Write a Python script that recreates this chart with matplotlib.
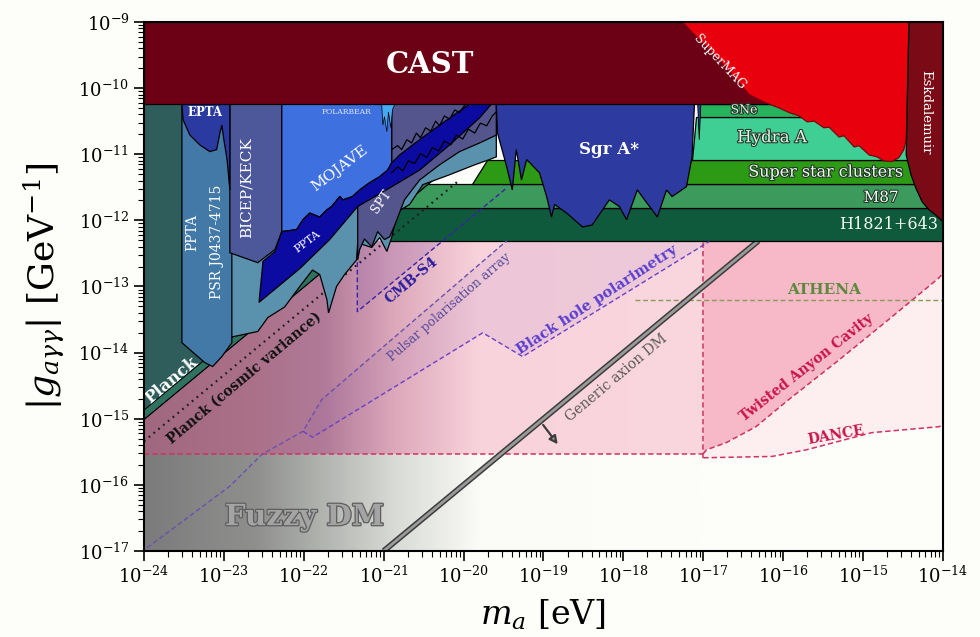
import matplotlib.pyplot as plt
import matplotlib.patheffects as pe
import numpy as np
from matplotlib.patches import Polygon
from matplotlib.ticker import LogLocator, NullFormatter, FixedLocator
from matplotlib.colors import LinearSegmentedColormap

plt.rcParams["font.family"] = "DejaVu Serif"
plt.rcParams["mathtext.fontset"] = "dejavuserif"

# everything below is log10(m_a / eV) and log10(|g| / GeV^-1)
XLIM = (-24, -14)
YLIM = (-17, -9)
mass_ticks = list(range(-24, -13))
coupling_ticks = list(range(-17, -8))

# ---- existing bounds ----
cast_logm = [-24, -14, -14, -24]
cast_logg = [-10.24, -10.24, -9.0, -9.0]

supermag_logm = [-17.26, -17.05, -16.80, -16.425, -16.24, -16.05, -15.925, -15.80, -15.70, -15.61,
                 -15.49, -15.425, -15.30, -15.24, -15.11, -15.05, -14.925, -14.825, -14.74, -14.64,
                 -14.55, -14.49, -14.46, -14.425]
supermag_logg = [-9.0, -9.27, -9.57, -10.10, -10.21, -10.30, -10.37, -10.42, -10.51, -10.50,
                 -10.60, -10.59, -10.74, -10.72, -10.89, -10.87, -11.01, -11.04, -11.10, -11.11,
                 -11.05, -10.93, -10.78, -9.0]

eskd_logm = [-14.425, -14.46, -14.40, -14.34, -14.26, -14.175, -14.09, -14.0, -14.0]
eskd_logg = [-9.0, -11.01, -11.31, -11.51, -11.72, -11.84, -11.92, -12.02, -9.0]

# astrophysical bands
sne_logm = [-17.05, -14.0, -14.0, -17.05]
sne_logg = [-10.43, -10.43, -10.24, -10.24]
hydra_logm = [-17.14, -14.0, -14.0, -17.09]
hydra_logg = [-11.08, -11.08, -10.43, -10.43]
ssc_logm = [-19.89, -14.0, -14.0, -19.71]
ssc_logg = [-11.45, -11.45, -11.08, -11.08]
m87_logm = [-20.74, -14.0, -14.0, -20.60]
m87_logg = [-11.81, -11.81, -11.45, -11.45]
h1821_logm = [-20.93, -14.0, -14.0, -20.93]
h1821_logg = [-12.31, -12.31, -11.81, -11.81]

sgra_logm = [-19.59, -19.59, -19.575, -19.46, -19.39, -19.34, -19.275, -19.21, -19.05, -18.96,
             -18.90, -18.86, -18.71, -18.51, -18.39, -18.175, -18.05, -17.96, -17.825, -17.71,
             -17.64, -17.575, -17.46, -17.39, -17.21, -17.14, -17.11]
sgra_logg = [-10.24, -10.28, -10.68, -11.19, -11.54, -10.93, -11.39, -11.08, -11.28, -11.64,
             -11.95, -11.76, -11.89, -12.10, -12.07, -11.69, -11.79, -11.99, -11.54, -11.73,
             -11.84, -11.95, -11.54, -11.64, -11.49, -11.04, -10.24]
sgra_spike_logm = [-17.07, -17.05, -17.03]
sgra_spike_logg = [-10.24, -10.78, -10.24]

planck_logm = [-24, -24, -19.23]
planck_logg = [-10.24, -15.01, -10.24]
planck_strip_logm = [-24, -19.23, -19.37, -24]
planck_strip_logg = [-15.01, -10.24, -10.24, -14.87]

pta_logm = [-23.525, -23.525, -23.24, -23.14, -23.025, -22.90, -22.90]
pta_logg = [-10.24, -13.85, -14.15, -14.21, -14.06, -13.85, -10.24]

psr_logm = [-23.275, -23.275, -22.925, -22.575, -22.45, -22.24, -22.05, -21.89, -21.80, -21.71,
            -21.69, -21.59, -21.49, -21.34, -21.325, -21.15, -21.05, -20.96, -20.90, -20.825,
            -20.675, -20.51, -20.175, -19.86, -19.675, -19.59, -19.59]
psr_logg = [-10.24, -13.80, -13.77, -13.68, -13.47, -13.31, -13.00, -12.75, -12.82, -13.20,
            -13.40, -13.00, -12.82, -12.60, -12.34, -12.41, -12.26, -12.47, -12.26, -11.87,
            -11.76, -11.46, -11.31, -11.16, -11.08, -11.04, -10.24]

epta_logm = [-23.525, -23.51, -23.425, -23.30, -23.175, -23.09, -23.05, -23.025, -23.0, -22.96,
             -22.925, -22.925]
epta_logg = [-10.24, -10.48, -10.71, -10.86, -10.96, -10.93, -10.68, -10.56, -10.78, -11.08,
             -11.54, -10.24]

bicep_logm = [-22.925, -22.925, -22.575, -22.36, -22.275, -22.275]
bicep_logg = [-10.24, -12.49, -12.64, -12.44, -12.17, -10.24]

spt_logm = [-21.325, -21.325, -20.90, -20.90, -19.59, -19.59, -19.80, -20.05, -20.30, -20.55,
            -20.74, -20.86, -20.925, -20.99, -21.075, -21.15, -21.24, -21.30]
spt_logg = [-12.60, -11.72, -11.13, -10.24, -10.24, -10.71, -10.83, -10.96, -11.16, -11.39,
            -11.69, -12.07, -12.25, -12.29, -12.17, -12.40, -12.28, -12.44]

mojave_logm = [-22.275, -22.275, -22.09, -22.01, -21.925, -21.80, -21.71, -21.65, -21.55, -21.51,
               -21.39, -21.30, -21.175, -21.05, -20.95, -20.90, -20.90]
mojave_logg = [-10.24, -12.17, -12.14, -11.99, -11.89, -11.95, -11.84, -11.79, -11.64, -11.69,
               -11.64, -11.54, -11.43, -11.34, -11.24, -11.13, -10.24]

ppta_band_logm = [-22.56, -22.05, -21.675, -21.325, -20.925, -20.55, -20.175, -19.80, -19.65,
                  -19.925, -20.30, -20.55, -20.80, -20.90, -20.95, -21.05, -21.175, -21.30,
                  -21.39, -21.51, -21.55, -21.65, -21.71, -21.80, -21.925, -22.01, -22.09,
                  -22.275, -22.36, -22.51]
ppta_band_logg = [-13.24, -12.73, -12.29, -11.79, -11.51, -11.24, -10.86, -10.45, -10.24,
                  -10.24, -10.56, -10.78, -11.01, -11.13, -11.24, -11.34, -11.43, -11.54,
                  -11.64, -11.69, -11.64, -11.79, -11.84, -11.95, -11.89, -11.99, -12.14,
                  -12.17, -12.47, -12.62]

polarbear_logm = [-21.025, -21.01, -20.99, -20.96, -20.94, -20.91, -20.89, -20.86]
polarbear_logg = [-10.24, -10.56, -10.43, -10.66, -10.36, -10.60, -10.33, -10.24]

# noisy CMB birefringence limits running under CAST
noise1_logm = [-20.90, -20.825, -20.775, -20.71, -20.65, -20.59, -20.54, -20.475, -20.41, -20.35,
               -20.30, -20.24, -20.175, -20.11, -20.05, -19.975]
noise1_logg = [-10.93, -10.87, -10.93, -10.78, -10.83, -10.68, -10.75, -10.60, -10.65, -10.50,
               -10.57, -10.42, -10.47, -10.33, -10.37, -10.24]
noise2_logm = [-20.90, -20.825, -20.76, -20.69, -20.61, -20.54, -20.46, -20.39, -20.31, -20.24,
               -20.16, -20.09, -20.01, -19.94, -19.86, -19.79, -19.71, -19.64, -19.59]
noise2_logg = [-11.28, -11.19, -11.25, -11.10, -11.14, -10.99, -11.05, -10.90, -10.95, -10.80,
               -10.86, -10.71, -10.77, -10.62, -10.68, -10.53, -10.57, -10.42, -10.36]

# ---- projections ----
pink_logm = [-24, -17, -17, -24]
pink_logg = [-15.53, -15.53, -12.31, -12.31]
fuzzy_logm = [-24, -17, -17, -24]
fuzzy_logg = [-17, -17, -15.53, -15.53]

anyon_logm = [-17.0, -16.96, -16.71, -16.34, -15.93, -15.30, -14.68, -14.05, -14.0]
anyon_logg = [-15.53, -15.47, -15.36, -15.12, -14.71, -14.11, -13.50, -12.87, -12.80]
dance_logm = [-17.0, -16.14, -15.71, -14.89, -14.05, -14.0]
dance_logg = [-15.59, -15.57, -15.47, -15.21, -15.12, -15.10]

athena_logm = [-17.86, -14.0]
athena_logg = [-13.20, -13.20]

planck_cv_logm = [-24.0, -20.05]
planck_cv_logg = [-15.34, -11.39]

cmbs4_logm = [-21.33, -21.33, -19.45]
cmbs4_logg = [-12.40, -13.38, -11.50]

pulsar_logm = [-23.96, -22.925, -22.525, -22.01, -21.775, -19.46]
pulsar_logg = [-16.95, -16.02, -15.54, -15.19, -14.71, -12.31]
bhp_logm = [-22.01, -21.89, -19.76, -19.26, -16.925]
bhp_logg = [-15.19, -15.28, -13.70, -14.06, -12.32]

axion_logm = [-21.0, -16.31]
axion_logg = [-17.0, -12.31]
axion_arrow_logm = [-19.025, -18.80]
axion_arrow_logg = [-15.06, -15.42]


def P(v):
    return 10.0 ** np.asarray(v, dtype=float)


def region(ax, logm, logg, fc, z, ec="k", lw=0.9, alpha=1.0, ls="-"):
    patch = Polygon(np.column_stack([P(logm), P(logg)]), closed=True, fc=fc, ec=ec,
                    lw=lw, alpha=alpha, zorder=z, ls=ls)
    ax.add_patch(patch)
    return patch


def label(ax, lm, lg, s, size, color="white", rot=0, weight="normal", stroke=None, z=30):
    t = ax.text(P(lm), P(lg), s, fontsize=size, color=color, rotation=rot,
                ha="center", va="center", fontweight=weight, zorder=z,
                rotation_mode="anchor")
    if stroke:
        t.set_path_effects([pe.withStroke(linewidth=stroke[0], foreground=stroke[1])])
    return t


fig = plt.figure(figsize=(9.8, 6.37), dpi=100, facecolor="#fdfdf9")
ax = fig.add_axes([0.1469, 0.1350, 0.8153, 0.8305])
ax.set_xscale("log")
ax.set_yscale("log")
ax.set_xlim(P(XLIM[0]), P(XLIM[1]))
ax.set_ylim(P(YLIM[0]), P(YLIM[1]))
ax.set_facecolor("#fdfdf9")

# gradient backgrounds (fuzzy DM fades out towards heavier masses)
grad_x = np.linspace(0, 1, 512)
gray_cmap = LinearSegmentedColormap.from_list(
    "fz", [(0, "#7b7b7b"), (0.2, "#8f908e"), (0.45, "#d8dbd6"), (0.6, "#fbfbf7"), (1, "#fdfdf9")])
pink_cmap = LinearSegmentedColormap.from_list(
    "pk", [(0, "#a0687e"), (0.2, "#ab7189"), (0.32, "#b07a98"), (0.45, "#dda9bb"),
           (0.6, "#f9d3dc"), (1, "#fad6de")])
for cmap, lm, lg in [(gray_cmap, fuzzy_logm, fuzzy_logg), (pink_cmap, pink_logm, pink_logg)]:
    clip = region(ax, lm, lg, "none", 0.5, ec="none", lw=0)
    im = ax.imshow(grad_x[None, :], cmap=cmap, aspect="auto", extent=(0, 0.7, 0, 1),
                   transform=ax.transAxes, zorder=0.6, interpolation="bilinear")
    im.set_clip_path(clip)

region(ax, anyon_logm + [-14.0, -17.0], anyon_logg + [-12.31, -12.31], "#f7b8c7", 1, ec="none", lw=0)
region(ax, dance_logm + anyon_logm[::-1], dance_logg + anyon_logg[::-1], "#fdeef0", 1, ec="none", lw=0)

# projected regions with light tint
region(ax, pulsar_logm[3:] + bhp_logm[::-1], pulsar_logg[3:] + bhp_logg[::-1], "#8a5fb0", 1.2,
       ec="none", lw=0, alpha=0.10)
region(ax, cmbs4_logm + [-21.33], cmbs4_logg + [-12.40], "#7a50b0", 1.2, ec="none", lw=0, alpha=0.18)

red_dash = dict(color="#cf3262", lw=1.1, ls=(0, (3.5, 2)), zorder=2)
ax.plot(P([-24, -17]), P([-15.53, -15.53]), **red_dash)
ax.plot(P([-17, -17]), P([-15.59, -12.31]), **red_dash)
ax.plot(P(anyon_logm), P(anyon_logg), **red_dash)
ax.plot(P(dance_logm), P(dance_logg), **red_dash)
ax.plot(P(athena_logm), P(athena_logg), color="#8a9a50", lw=1.0, ls=(0, (3.5, 2)), zorder=2)

# generic axion DM line with arrow
ax.plot(P(axion_logm), P(axion_logg), color="#3c3c3c", lw=4.2, zorder=2.5, solid_capstyle="butt")
ax.plot(P(axion_logm), P(axion_logg), color="#9a9a9a", lw=2.0, zorder=2.6, solid_capstyle="butt")
ax.annotate("", xy=(P(axion_arrow_logm[1]), P(axion_arrow_logg[1])),
            xytext=(P(axion_arrow_logm[0]), P(axion_arrow_logg[0])),
            arrowprops=dict(arrowstyle="-|>", color="#3c3c3c", lw=1.6, mutation_scale=12,
                            fc="#9a9a9a"), zorder=2.6)

# astrophysical bands
region(ax, h1821_logm, h1821_logg, "#0f5a3c", 4)
region(ax, m87_logm, m87_logg, "#3c9a5c", 4)
region(ax, ssc_logm, ssc_logg, "#2c9a14", 4)
region(ax, hydra_logm, hydra_logg, "#3fcf95", 4)
region(ax, sne_logm, sne_logg, "#26b35c", 4)

ax.plot(P(planck_cv_logm), P(planck_cv_logg), color="#1e1e1e", lw=1.6, ls=(0, (0.8, 2.0)), zorder=4.5)
blue_dash = dict(lw=1.0, ls=(0, (3.5, 2)), zorder=4.5)
ax.plot(P(cmbs4_logm), P(cmbs4_logg), color="#3a22a8", **blue_dash)
ax.plot(P(pulsar_logm), P(pulsar_logg), color="#6a50b0", **blue_dash)
ax.plot(P(bhp_logm), P(bhp_logg), color="#6a40c8", **blue_dash)

# pulsar timing / CMB limits
region(ax, planck_logm, planck_logg, "#2e5d5b", 5)
region(ax, planck_strip_logm, planck_strip_logg, "#2f7260", 5.1, lw=0.7)
region(ax, psr_logm, psr_logg, "#5a92ae", 5.2)
region(ax, pta_logm, pta_logg, "#4279a6", 5.3)
region(ax, spt_logm, spt_logg, "#55558e", 5.4)
region(ax, bicep_logm, bicep_logg, "#4c5899", 5.5)
region(ax, mojave_logm, mojave_logg, "#3f70e0", 5.6)
region(ax, ppta_band_logm, ppta_band_logg, "#0b0ba2", 5.7)
region(ax, epta_logm, epta_logg, "#2b3aa0", 5.8)
region(ax, polarbear_logm, polarbear_logg, "#45aaf2", 5.9, lw=0.5)
ax.plot(P(noise1_logm), P(noise1_logg), color="k", lw=0.9, zorder=5.95)
ax.plot(P(noise2_logm), P(noise2_logg), color="k", lw=0.9, zorder=5.95)

region(ax, sgra_logm, sgra_logg, "#2d3a9f", 6)
region(ax, sgra_spike_logm, sgra_spike_logg, "#2d3a9f", 6, lw=0.6)

region(ax, cast_logm, cast_logg, "#6c0014", 7)
region(ax, supermag_logm, supermag_logg, "#e8000d", 8, ec="#7a0010")
region(ax, eskd_logm, eskd_logg, "#7a0a16", 9)

# ---- labels ----
dark = (1.6, "#203828")
label(ax, -20.425, -9.65, "CAST", 21, weight="bold")
label(ax, -23.65, -14.41, "Planck", 12, rot=40, weight="bold")
label(ax, -23.40, -12.19, "PPTA", 10, rot=90)
label(ax, -23.09, -12.32, "PSR J0437-4715", 10, rot=90)
label(ax, -22.71, -11.51, "BICEP/KECK", 11, rot=90)
label(ax, -23.24, -10.37, "EPTA", 8.5, weight="bold")
label(ax, -21.46, -10.36, "POLARBEAR", 5.5, color="#dfe8ff")
label(ax, -21.55, -11.21, "MOJAVE", 11, rot=37)
label(ax, -21.95, -12.32, "PPTA", 8, rot=37)
label(ax, -21.025, -11.72, "SPT", 9, rot=55)
label(ax, -18.175, -10.93, "Sgr A*", 12, weight="bold")
label(ax, -16.80, -9.60, "SuperMAG", 9, rot=-47)
label(ax, -14.21, -10.36, "Eskdalemuir", 9.5, rot=-90)
label(ax, -16.49, -10.33, "SNe", 9, color="#e0f0e0", stroke=dark)
label(ax, -16.14, -10.75, "Hydra A", 12, color="#e8f2e8", stroke=dark)
label(ax, -15.46, -11.27, "Super star clusters", 11.5, color="#f4fbf0", stroke=dark)
label(ax, -14.775, -11.66, "M87", 11, color="#f4fbf0", stroke=dark)
label(ax, -14.675, -12.07, "H1821+643", 11.5, color="#f4fbf0")
label(ax, -22.74, -14.38, "Planck (cosmic variance)", 10, color="#111111", rot=40, weight="bold", z=4.6)
label(ax, -20.66, -12.91, "CMB-S4", 10, color="#2a1ea0", rot=40, weight="bold", z=4.6)
label(ax, -20.175, -13.32, "Pulsar polarisation array", 9, color="#5a4c9c", rot=41, z=4.6)
label(ax, -18.325, -13.20, "Black hole polarimetry", 10.5, color="#5a3ecf", rot=33, weight="bold", z=4.6)
label(ax, -18.09, -14.38, "Generic axion DM", 10, color="#5a5a5a", rot=40, z=4.6)
label(ax, -15.49, -13.05, "ATHENA", 11, color="#5c8a3c", weight="bold", z=4.6)
label(ax, -15.71, -14.23, "Twisted Anyon Cavity", 10, color="#c8144a", rot=38, weight="bold", z=4.6)
label(ax, -15.34, -15.24, "DANCE", 10, color="#c8144a", rot=10, weight="bold", z=4.6)
label(ax, -21.99, -16.48, "Fuzzy DM", 21, color="#a4a4a4", weight="bold", stroke=(1.8, "#5e5e5e"), z=4.6)

# ---- axes ----
ax.set_xlabel(r"$m_a$ [eV]", fontsize=24, labelpad=8)
ax.set_ylabel(r"$|g_{a\gamma\gamma}|$ [GeV$^{-1}$]", fontsize=26, labelpad=8)
ax.xaxis.set_major_locator(FixedLocator(P(mass_ticks)))
ax.yaxis.set_major_locator(FixedLocator(P(coupling_ticks)))
ax.set_xticklabels([rf"$10^{{{k}}}$" for k in mass_ticks])
ax.set_yticklabels([rf"$10^{{{k}}}$" for k in coupling_ticks])
ax.xaxis.set_minor_locator(LogLocator(base=10, subs=np.arange(2, 10), numticks=200))
ax.yaxis.set_minor_locator(LogLocator(base=10, subs=np.arange(2, 10), numticks=200))
ax.xaxis.set_minor_formatter(NullFormatter())
ax.yaxis.set_minor_formatter(NullFormatter())
ax.tick_params(which="both", direction="out", top=False, right=False, labelsize=13, width=1.2)
ax.tick_params(which="major", length=7)
ax.tick_params(which="minor", length=4, width=0.8)
for sp in ax.spines.values():
    sp.set_linewidth(1.5)
    sp.set_zorder(40)

fig.savefig("out.png", dpi=100, facecolor=fig.get_facecolor())
